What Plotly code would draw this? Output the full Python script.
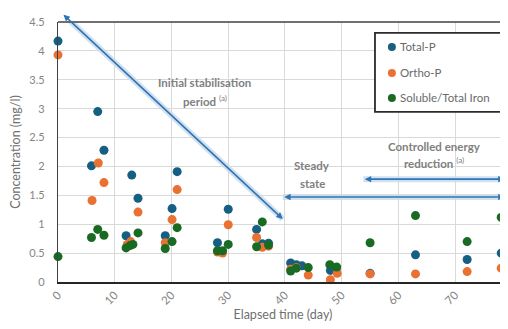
import plotly.graph_objects as go

# ---- data ----
tp_days = [0, 5.9, 7.0, 8.1, 12.0, 13.0, 14.1, 18.9, 20.1, 21.0, 28.1, 30.0, 35.0, 36.0, 37.1,
           41.0, 42.0, 43.0, 48.0, 49.0, 55.0, 63.0, 72.1, 78.1]
tp_vals = [4.17, 2.01, 2.95, 2.28, 0.80, 1.85, 1.45, 0.80, 1.27, 1.91, 0.68, 1.26, 0.91, 0.66, 0.67,
           0.33, 0.30, 0.28, 0.20, 0.22, 0.15, 0.47, 0.39, 0.50]

op_days = [0, 6.0, 7.1, 8.1, 12.2, 12.8, 14.1, 18.9, 20.1, 21.0, 28.1, 29.0, 30.0, 35.0, 36.0, 37.1,
           41.0, 42.0, 44.1, 48.0, 49.2, 55.0, 63.0, 72.1, 78.1]
op_vals = [3.93, 1.41, 2.06, 1.72, 0.65, 0.70, 1.21, 0.68, 1.08, 1.60, 0.52, 0.50, 0.99, 0.77, 0.60, 0.62,
           0.22, 0.25, 0.12, 0.04, 0.15, 0.14, 0.14, 0.18, 0.24]

fe_days = [0, 5.9, 7.0, 8.1, 12.0, 12.7, 13.2, 14.1, 18.9, 20.1, 21.0, 28.1, 29.0, 30.0, 35.0, 36.0, 37.1,
           41.0, 42.0, 44.1, 47.9, 49.1, 55.0, 63.0, 72.1, 78.1]
fe_vals = [0.44, 0.77, 0.91, 0.81, 0.59, 0.63, 0.65, 0.85, 0.58, 0.70, 0.94, 0.54, 0.54, 0.65, 0.61, 1.04, 0.64,
           0.19, 0.24, 0.25, 0.30, 0.26, 0.68, 1.15, 0.70, 1.12]

series_names = ["Total-P", "Ortho-P", "Soluble/Total Iron"]
series_colors = ["#156082", "#E97132", "#196B24"]

x_ticks = [0, 10, 20, 30, 40, 50, 60, 70]
y_ticks = [0, 0.5, 1, 1.5, 2, 2.5, 3, 3.5, 4, 4.5]

FONT = "Lato"
GRAY = "#858585"
TGRAY = "#707070"
ARROW = "#2E75B6"

fig = go.Figure()
for i, (xs, ys) in enumerate([(tp_days, tp_vals), (op_days, op_vals), (fe_days, fe_vals)]):
    fig.add_trace(go.Scatter(
        x=xs, y=ys, mode="markers", name=series_names[i], showlegend=False,
        marker=dict(color=series_colors[i], size=9), cliponaxis=False,
    ))

# arrows: (tail, head)
arrows = [
    ((0.7, 4.65), (39.6, 1.09)),
    ((39.6, 1.47), (78.7, 1.47)),
    ((53.8, 1.78), (78.7, 1.78)),
]
for (x0, y0), (x1, y1) in arrows:
    fig.add_shape(type="line", x0=x0, y0=y0, x1=x1, y1=y1, xref="x", yref="y",
                  line=dict(color="rgba(46,117,182,0.22)", width=6), layer="below")

annotations = []
for (x0, y0), (x1, y1) in arrows:
    annotations.append(dict(
        x=x1, y=y1, ax=x0, ay=y0, xref="x", yref="y", axref="x", ayref="y",
        text="", showarrow=True, arrowhead=2, startarrowhead=2, arrowside="end+start",
        arrowsize=0.8, startarrowsize=0.8, arrowwidth=1.6, arrowcolor=ARROW,
    ))

label_font = dict(family=FONT, size=11.5, color="#808080")
annotations += [
    dict(x=25.9, y=3.46, xref="x", yref="y", text="<b>Initial stabilisation</b>", showarrow=False, font=label_font),
    dict(x=25.9, y=3.15, xref="x", yref="y", text="<b>period</b> <sup>(a)</sup>", showarrow=False, font=label_font),
    dict(x=44.8, y=2.02, xref="x", yref="y", text="<b>Steady</b>", showarrow=False, font=label_font),
    dict(x=44.8, y=1.71, xref="x", yref="y", text="<b>state</b>", showarrow=False, font=label_font),
    dict(x=66.3, y=2.35, xref="x", yref="y", text="<b>Controlled energy</b>", showarrow=False, font=label_font),
    dict(x=66.3, y=2.06, xref="x", yref="y", text="<b>reduction</b> <sup>(a)</sup>", showarrow=False, font=label_font),
    dict(x=1.0, y=-0.025, xref="paper", yref="paper", text="80", showarrow=False, textangle=-45,
         xanchor="left", yanchor="top", xshift=-8, font=dict(family=FONT, size=11.5, color=GRAY)),
]

# manual legend (box + markers + labels)
leg_x0, leg_x1, leg_y0, leg_y1 = 0.7044, 0.9867, 0.654, 0.958
leg_marker_x = 0.742
leg_text_x = 0.7556
leg_rows_y = [0.904, 0.804, 0.708]
fig.add_shape(type="rect", x0=leg_x0, x1=leg_x1, y0=leg_y0, y1=leg_y1, xref="paper", yref="paper",
              fillcolor="white", line=dict(color="#2b2b2b", width=1.8), layer="above")
for name, col, yy in zip(series_names, series_colors, leg_rows_y):
    fig.add_shape(type="circle", xref="paper", yref="paper", xsizemode="pixel", ysizemode="pixel",
                  xanchor=leg_marker_x, yanchor=yy, x0=-4, x1=4, y0=-4, y1=4,
                  fillcolor=col, line=dict(color=col, width=0), layer="above")
    annotations.append(dict(x=leg_text_x, y=yy, xref="paper", yref="paper", text=name, showarrow=False,
                            xanchor="left", yanchor="middle",
                            font=dict(family=FONT, size=11.5, color="#6a6a6a")))

# the page body has an 8px default margin, so the figure is sized to fit the window
fig.update_layout(
    width=500, height=321,
    margin=dict(l=50, r=0, t=14, b=47),
    paper_bgcolor="white", plot_bgcolor="white",
    font=dict(family=FONT, size=11, color=GRAY),
    showlegend=False,
    annotations=annotations,
)

fig.update_xaxes(
    range=[0, 79.3], tickvals=x_ticks, ticktext=[str(v) for v in x_ticks], tickangle=-45,
    showgrid=True, gridcolor="#d9d9d9", gridwidth=1,
    showline=True, linecolor="#262626", linewidth=2, mirror=False,
    zeroline=False, ticks="", automargin=False,
    title=dict(text="Elapsed time (day)", font=dict(family=FONT, size=12.5, color=TGRAY), standoff=3),
    tickfont=dict(family=FONT, size=11.5, color=GRAY),
)
fig.update_yaxes(
    range=[0, 4.5], tickvals=y_ticks, ticktext=["0", "0.5", "1", "1.5", "2", "2.5", "3", "3.5", "4", "4.5"],
    showgrid=True, gridcolor="#d9d9d9", gridwidth=1,
    showline=True, linecolor="#404040", linewidth=1.3,
    zeroline=False, ticks="", automargin=False, ticklabelstandoff=10,
    title=dict(text="Concentration (mg/l)", font=dict(family=FONT, size=12.5, color=TGRAY), standoff=5),
    tickfont=dict(family=FONT, size=11, color=GRAY),
)
# top border line
fig.add_shape(type="line", x0=0, x1=1, y0=1, y1=1, xref="paper", yref="paper",
              line=dict(color="#404040", width=1.3))

fig.write_html("out.html")
